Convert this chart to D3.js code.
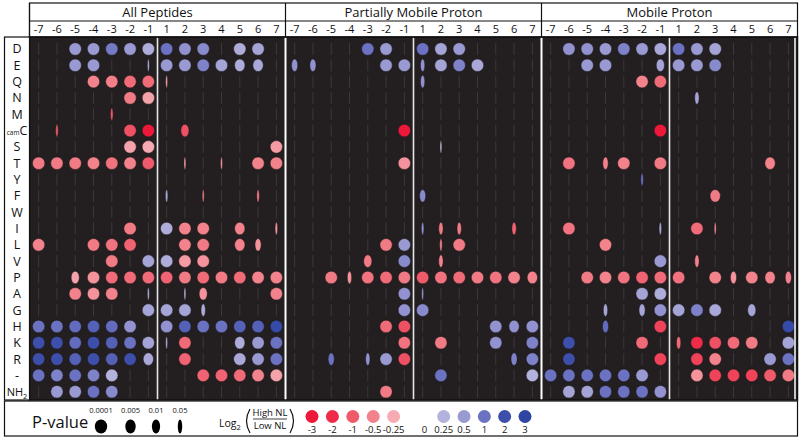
<!DOCTYPE html>
<html><head><meta charset="utf-8">
<script src="https://cdn.jsdelivr.net/npm/d3@7"></script>
<style>body{margin:0;background:#fff}svg{display:block}text{font-family:"Open Sans",Lato,sans-serif;fill:#111}</style>
</head><body>
<svg id="c" width="800" height="439"></svg>
<script>
const panels = ["All Peptides","Partially Mobile Proton","Mobile Proton"];
const positions = [-7,-6,-5,-4,-3,-2,-1,1,2,3,4,5,6,7];
const residues = ["D","E","Q","N","M","camC","S","T","Y","F","W","I","L","V","P","A","G","H","K","R","-","NH2"];
const pLegend = [0.0001,0.005,0.01,0.05];
const pLegendLabels = ["0.0001","0.005","0.01","0.05"];
const log2Legend = [-3,-2,-1,-0.5,-0.25,0.25,0.5,1,2,3];
const log2LegendLabels = ["-3","-2","-1","-0.5","-0.25","0.25","0.5","1","2","3"];
// [residue, position, log2(High NL/Low NL), p-value]
const allPeptides = [
["D",-5,0.5,1e-4],["D",-4,0.5,1e-4],["D",-3,0.9,1e-4],["D",-2,0.5,1e-4],["D",-1,0.3,1e-4],["D",1,1,1e-4],["D",2,0.6,1e-4],["D",3,0.7,1e-4],["D",5,0.3,1e-4],["D",6,0.4,1e-4],
["E",-5,0.5,1e-4],["E",-4,0.5,1e-4],["E",-1,0.3,0.1],["E",1,0.5,1e-4],["E",2,0.5,1e-4],["E",3,0.8,1e-4],["E",4,0.4,1e-4],["E",5,0.3,0.005],["E",6,0.35,0.005],
["Q",-4,-0.5,1e-4],["Q",-3,-0.55,1e-4],["Q",-2,-0.8,1e-4],["Q",-1,-0.8,1e-4],["Q",1,-0.3,0.1],
["N",-2,-0.6,1e-4],["N",-1,-0.3,1e-4],
["M",-3,-1,0.08],
["camC",-6,-1,0.08],["camC",-2,-1.2,1e-4],["camC",-1,-3,1e-4],["camC",2,-1.2,0.01],
["S",-2,-0.3,1e-4],["S",-1,-0.25,1e-4],["S",7,-0.35,1e-4],
["T",-7,-0.6,1e-4],["T",-6,-0.6,1e-4],["T",-5,-0.6,1e-4],["T",-4,-0.5,1e-4],["T",-3,-0.7,1e-4],["T",-2,-0.5,1e-4],["T",-1,-1,1e-4],["T",2,-0.3,0.1],["T",4,-0.4,0.1],["T",6,-0.5,1e-4],["T",7,-0.5,1e-4],
["F",1,0.4,0.08],["F",3,-0.5,0.1],["F",6,-0.6,0.08],
["I",-2,-0.6,1e-4],["I",1,0.3,1e-4],["I",2,-0.5,1e-4],["I",3,-0.5,1e-4],["I",5,-0.5,0.005],["I",7,-0.4,0.08],
["L",-7,-0.5,1e-4],["L",-4,-0.6,1e-4],["L",-3,-0.7,1e-4],["L",-2,-0.9,1e-4],["L",2,-0.5,1e-4],["L",3,-0.6,1e-4],["L",5,-0.5,0.005],["L",6,-0.4,0.02],
["V",-3,-0.6,1e-4],["V",-1,0.4,1e-4],["V",1,0.3,1e-4],["V",2,-0.35,1e-4],["V",3,-0.4,1e-4],
["P",-5,-0.3,0.01],["P",-4,-0.4,1e-4],["P",-3,-0.8,1e-4],["P",-2,-0.8,1e-4],["P",-1,-0.8,1e-4],["P",1,-0.9,1e-4],["P",2,-0.6,1e-4],["P",3,-0.8,1e-4],["P",4,-0.6,1e-4],["P",5,-0.8,1e-4],["P",6,-0.5,1e-4],["P",7,-0.5,1e-4],
["A",-5,-0.5,1e-4],["A",-4,-0.4,1e-4],["A",-3,-0.5,1e-4],["A",-1,0.25,0.1],["A",2,0.25,0.1],["A",3,-0.4,0.01],["A",7,-0.5,1e-4],
["G",-1,0.4,1e-4],["G",1,0.4,1e-4],["G",2,0.4,1e-4],["G",3,0.3,0.05],
["H",-7,1,1e-4],["H",-6,1,1e-4],["H",-5,1.2,1e-4],["H",-4,1.5,1e-4],["H",-3,1.2,1e-4],["H",-2,0.6,1e-4],["H",1,0.6,1e-4],["H",2,1.5,1e-4],["H",3,1,1e-4],["H",4,1,1e-4],["H",5,1.5,1e-4],["H",6,1.5,1e-4],["H",7,2.5,1e-4],
["K",-7,2,1e-4],["K",-6,2,1e-4],["K",-5,1.2,1e-4],["K",-4,2,1e-4],["K",-3,1.5,1e-4],["K",-2,1,1e-4],["K",-1,0.4,1e-4],["K",1,0.3,0.1],["K",2,-0.8,1e-4],["K",5,0.3,0.005],["K",6,0.5,1e-4],["K",7,1,1e-4],
["R",-7,2,1e-4],["R",-6,2,1e-4],["R",-5,1.5,1e-4],["R",-4,2,1e-4],["R",-3,1.5,1e-4],["R",-2,2,1e-4],["R",-1,0.35,0.005],["R",2,-0.9,1e-4],["R",5,0.35,1e-4],["R",6,0.5,1e-4],["R",7,1,1e-4],
["-",-7,1,1e-4],["-",-6,0.8,1e-4],["-",-5,1,1e-4],["-",-4,0.8,1e-4],["-",-3,0.25,1e-4],["-",3,-0.9,1e-4],["-",4,-0.9,1e-4],["-",5,-0.8,1e-4],["-",6,-0.5,1e-4],["-",7,-0.3,1e-4],
["NH2",-6,0.5,1e-4],["NH2",-5,0.5,1e-4],["NH2",-4,1,1e-4],["NH2",-3,0.7,1e-4]
];
const partiallyMobile = [
["D",-3,1,1e-4],["D",-2,0.5,1e-4],["D",1,1,1e-4],["D",2,0.4,1e-4],["D",3,0.5,1e-4],
["E",-7,0.6,0.02],["E",-6,0.6,0.02],["E",-2,0.5,1e-4],["E",-1,0.5,1e-4],["E",1,0.6,0.05],["E",2,0.4,1e-4],["E",3,0.8,1e-4],["E",4,0.35,1e-4],
["Q",1,0.6,0.05],
["camC",-1,-3,1e-4],
["S",2,0.2,0.1],
["T",-1,-0.4,1e-4],
["F",1,0.7,0.02],
["I",1,0.6,0.08],["I",2,-0.6,0.05],["I",3,-0.6,0.05],["I",6,-0.9,0.05],
["L",-2,-0.6,1e-4],["L",-1,0.5,1e-4],["L",2,-0.5,0.08],["L",3,-0.6,1e-4],
["V",-3,-0.6,0.01],["V",-1,0.7,1e-4],["V",2,-0.5,0.05],
["P",-5,-0.6,1e-4],["P",-4,-0.4,0.05],["P",-3,-0.7,1e-4],["P",-2,-0.8,1e-4],["P",-1,-0.6,1e-4],["P",1,-1,1e-4],["P",2,-0.7,1e-4],["P",3,-0.8,1e-4],["P",4,-0.6,1e-4],["P",5,-0.7,1e-4],["P",6,-0.5,1e-4],["P",7,-0.5,0.005],
["A",-1,0.6,1e-4],["A",1,0.5,0.1],
["G",-1,0.6,1e-4],["G",1,0.7,1e-4],
["H",-2,-0.8,1e-4],["H",-1,-1.2,1e-4],["H",5,0.6,1e-4],["H",6,0.6,0.005],["H",7,0.6,1e-4],
["K",-1,-0.7,1e-4],["K",2,-0.6,1e-4],["K",5,0.6,1e-4],["K",7,0.8,1e-4],
["R",-5,1,0.02],["R",-3,0.6,0.05],["R",-2,0.5,1e-4],["R",-1,-1.2,1e-4],["R",6,0.8,0.02],["R",7,0.8,1e-4],
["-",2,1,1e-4],["-",7,0.25,1e-4],
["NH2",-2,-0.6,1e-4]
];
const mobileProton = [
["D",-6,0.6,1e-4],["D",-5,0.6,1e-4],["D",-4,0.5,1e-4],["D",-3,0.8,1e-4],["D",-2,0.5,1e-4],["D",-1,0.35,1e-4],["D",1,1,1e-4],["D",2,0.5,1e-4],["D",3,0.4,1e-4],
["E",-5,0.5,1e-4],["E",-4,0.5,1e-4],["E",-1,0.4,0.01],["E",1,0.5,1e-4],["E",2,0.5,1e-4],["E",3,0.7,1e-4],
["Q",-2,-0.5,1e-4],["Q",-1,-0.8,1e-4],
["N",2,0.4,0.05],
["camC",-1,-3,1e-4],
["T",-6,-0.7,1e-4],["T",-4,-0.5,0.03],["T",-3,-0.5,1e-4],["T",-1,-0.6,1e-4],["T",6,-0.5,0.005],
["Y",-2,1,0.08],
["F",3,-0.6,0.005],
["I",-6,-0.7,1e-4],["I",-1,0.4,0.08],["I",2,-0.8,1e-4],["I",3,-0.4,0.1],
["L",-4,-0.5,1e-4],
["V",-1,0.5,1e-4],["V",2,-0.5,0.05],
["P",-5,-0.6,1e-4],["P",-4,-0.5,1e-4],["P",-3,-0.7,1e-4],["P",-2,-0.9,1e-4],["P",-1,-0.8,1e-4],["P",1,-0.7,1e-4],["P",3,-0.5,1e-4],["P",4,-0.4,0.02],["P",5,-0.5,1e-4],["P",6,-0.5,0.005],["P",7,-0.5,0.02],
["A",-2,0.4,1e-4],["A",-1,0.3,1e-4],
["G",-4,0.4,0.05],["G",-2,0.4,0.02],["G",-1,0.6,1e-4],["G",1,0.4,1e-4],["G",2,0.8,1e-4],["G",3,0.35,1e-4],["G",5,0.4,0.01],
["H",-4,1.2,0.02],["H",-1,-1.5,1e-4],["H",7,2.5,1e-4],
["K",-6,2,1e-4],["K",-2,-0.8,1e-4],["K",1,-0.8,0.05],["K",2,-2,1e-4],["K",3,-1.2,1e-4],["K",4,-0.8,1e-4],["K",5,-0.6,1e-4],["K",7,0.4,1e-4],
["R",-6,2,1e-4],["R",-1,-1.5,1e-4],["R",2,-1.5,1e-4],["R",3,-0.5,1e-4],["R",6,0.5,1e-4],["R",7,1,1e-4],
["-",-7,1,1e-4],["-",-6,1,1e-4],["-",-5,1,1e-4],["-",-4,1,1e-4],["-",-3,1,1e-4],["-",-2,0.5,1e-4],["-",2,-0.4,1e-4],["-",3,-1.5,1e-4],["-",4,-1.5,1e-4],["-",5,-1.5,1e-4],["-",6,-1,1e-4],["-",7,-0.6,1e-4],
["NH2",-6,0.4,1e-4],["NH2",-5,0.4,1e-4],["NH2",-4,1,1e-4],["NH2",-3,1,1e-4],["NH2",-2,1,1e-4],["NH2",-1,0.6,1e-4]
];
const panelData = [allPeptides, partiallyMobile, mobileProton];

const svg = d3.select("#c");
const yTop = 37, yBottom = 400;
const panelX = d3.scaleBand().domain(panels).range([29.5, 797.5]);
const y = d3.scaleBand().domain(residues).range([40.8, 399.9]);
const color = d3.scaleLinear()
  .domain([-3,-2,-1,-0.5,-0.25,0,0.25,0.5,1,2,3])
  .range(["#ec1a3a","#ee2b49","#ef5b6b","#f2838c","#f6abb2","#d8d8ea","#b3b2dc","#9a9ad2","#6b72c1","#3e4fab","#2e45a2"]);
const rx = d3.scaleLinear().domain([-4,-2.3,-2,-1.7,-1.3,-1.1,-1]).range([6.2,5.2,4.1,3.1,2.2,1.3,1.0]).clamp(true);
const ry = 6.3;

svg.append("rect").attr("x",29.5).attr("y",yTop).attr("width",768).attr("height",yBottom-yTop).attr("fill","#231f20");

panels.forEach((pn,pi)=>{
  const x0 = panelX(pn);
  const x = d3.scaleBand().domain(positions).range([x0, x0+panelX.bandwidth()]);
  const g = svg.append("g");
  residues.forEach(r=>{
    positions.forEach(p=>{
      g.append("line").attr("x1",x(p)+x.bandwidth()/2).attr("x2",x(p)+x.bandwidth()/2)
        .attr("y1",y(r)+y.bandwidth()/2-6).attr("y2",y(r)+y.bandwidth()/2+6)
        .attr("stroke","#6a6466").attr("stroke-opacity",0.45).attr("stroke-width",0.8);
    });
  });
  g.selectAll("ellipse.d").data(panelData[pi]).join("ellipse")
    .attr("cx",d=>x(d[1])+x.bandwidth()/2)
    .attr("cy",d=>y(d[0])+y.bandwidth()/2)
    .attr("rx",d=>rx(Math.log10(d[3])))
    .attr("ry",ry)
    .attr("fill",d=>color(d[2]))
    .attr("stroke","#1a1617").attr("stroke-width",0.5);
  const xm = x(1);
  svg.append("line").attr("x1",xm).attr("x2",xm).attr("y1",yTop).attr("y2",yBottom).attr("stroke","#e6e6e6").attr("stroke-width",1.6);
  if(pi>0) svg.append("line").attr("x1",x0).attr("x2",x0).attr("y1",yTop).attr("y2",yBottom).attr("stroke","#fff").attr("stroke-width",2);
  svg.append("text").attr("x",x0+panelX.bandwidth()/2).attr("y",17).attr("text-anchor","middle")
    .attr("font-size",13).text(pn);
  positions.forEach(p=>{
    svg.append("text").attr("x",x(p)+x.bandwidth()/2).attr("y",33).attr("text-anchor","middle")
      .attr("font-size",11).text(p);
  });
  svg.append("line").attr("x1",x0).attr("x2",x0).attr("y1",3).attr("y2",yTop).attr("stroke","#111").attr("stroke-width",1.2);
});
svg.append("line").attr("x1",795).attr("x2",795).attr("y1",yTop).attr("y2",yBottom).attr("stroke","#fff").attr("stroke-width",1.5);
svg.append("rect").attr("x",29.5).attr("y",3).attr("width",768).attr("height",yTop-3).attr("fill","none").attr("stroke","#111").attr("stroke-width",1.2);
svg.append("line").attr("x1",29.5).attr("x2",797.5).attr("y1",21).attr("y2",21).attr("stroke","#111").attr("stroke-width",1.2);
svg.append("rect").attr("x",29.5).attr("y",yTop).attr("width",768).attr("height",yBottom-yTop).attr("fill","none").attr("stroke","#111").attr("stroke-width",1.5);

svg.append("rect").attr("x",4.5).attr("y",yTop).attr("width",25).attr("height",yBottom-yTop).attr("fill","#fff").attr("stroke","#111").attr("stroke-width",1.2);
residues.forEach(r=>{
  const t = svg.append("text").attr("x",17).attr("y",y(r)+y.bandwidth()/2+4.5).attr("text-anchor","middle").attr("font-size",12.5);
  if(r==="camC"){ t.append("tspan").attr("font-size",6.5).text("cam"); t.append("tspan").text("C"); }
  else if(r==="NH2"){ t.append("tspan").attr("font-size",11).text("NH"); t.append("tspan").attr("font-size",7.5).attr("dy",3).text("2"); }
  else t.text(r);
});

const lg = svg.append("g");
lg.append("rect").attr("x",4.5).attr("y",401).attr("width",793).attr("height",35).attr("fill","#fff").attr("stroke","#111").attr("stroke-width",1.2);
lg.append("text").attr("x",32).attr("y",428).attr("font-size",16.5).text("P-value");
const pX = d3.scaleOrdinal().domain(pLegend).range([101,130.5,156,180]);
pLegend.forEach((p,i)=>{
  lg.append("text").attr("x",pX(p)).attr("y",413).attr("text-anchor","middle").attr("font-size",7.5).text(pLegendLabels[i]);
  lg.append("ellipse").attr("cx",pX(p)).attr("cy",426.5).attr("rx",rx(Math.log10(p))).attr("ry",7).attr("fill","#000");
});
const lt = lg.append("text").attr("x",219).attr("y",427).attr("font-size",10.5);
lt.append("tspan").text("Log"); lt.append("tspan").attr("font-size",7.5).attr("dy",3).text("2");
// parentheses drawn as curves
lg.append("path").attr("d","M250,409 Q243,421 250,433").attr("fill","none").attr("stroke","#111").attr("stroke-width",1.2);
lg.append("path").attr("d","M290,409 Q297,421 290,433").attr("fill","none").attr("stroke","#111").attr("stroke-width",1.2);
lg.append("text").attr("x",270).attr("y",416).attr("text-anchor","middle").attr("font-size",9.5).text("High NL");
lg.append("line").attr("x1",253).attr("x2",287).attr("y1",419).attr("y2",419).attr("stroke","#111").attr("stroke-width",0.8);
lg.append("text").attr("x",270).attr("y",429).attr("text-anchor","middle").attr("font-size",9.5).text("Low NL");
const negX = d3.scaleLinear().domain([0,4]).range([312,393.6]);
const posX = d3.scaleLinear().domain([5,9]).range([443.7,525]);
const legendX = i => i < 5 ? negX(i) : posX(i);
log2Legend.forEach((v,i)=>{
  lg.append("circle").attr("cx",legendX(i)).attr("cy",416.5).attr("r",6.5).attr("fill",color(v));
  lg.append("text").attr("x",legendX(i)).attr("y",433).attr("text-anchor","middle").attr("font-size",9.5).text(log2LegendLabels[i]);
});
lg.append("text").attr("x",424.5).attr("y",433).attr("text-anchor","middle").attr("font-size",9.5).text("0");
</script>
</body></html>
